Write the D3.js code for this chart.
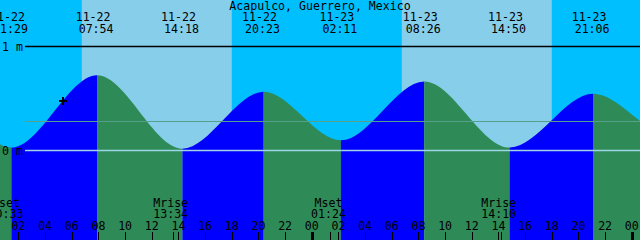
<!DOCTYPE html>
<html>
<head>
<meta charset="utf-8">
<script src="https://cdn.jsdelivr.net/npm/d3@7"></script>
<style>
body { margin: 0; background: #fff; }
svg { display: block; font-family: "DejaVu Sans Mono", monospace; font-size: 11.6px; }
</style>
</head>
<body>
<svg id="chart"></svg>
<script>
// tide extremes (first two and last two are off-screen guesses)
const title = "Acapulco, Guerrero, Mexico";
const tideTimes = ["2023-11-21 13:40", "2023-11-21 19:45", "2023-11-22 01:29", "2023-11-22 07:54",
  "2023-11-22 14:18", "2023-11-22 20:23", "2023-11-23 02:11", "2023-11-23 08:26",
  "2023-11-23 14:50", "2023-11-23 21:06", "2023-11-24 02:55", "2023-11-24 09:10"];
const tideHeights = [0.04, 0.55, 0.03, 0.73, 0.02, 0.57, 0.10, 0.67, 0.03, 0.55, 0.15, 0.62];

const sunRise = ["2023-11-22 06:45", "2023-11-23 06:45"];
const sunSet = ["2023-11-22 18:00", "2023-11-23 18:00"];

const moonNames = ["Mset", "Mrise", "Mset", "Mrise"];
const moonTimes = ["2023-11-22 00:33", "2023-11-22 13:34", "2023-11-23 01:24", "2023-11-23 14:10"];

const heightTicks = [1, 0];
const meanLevel = 0.29;
const nowTime = "2023-11-22 05:22", nowHeight = 0.48;
const startTime = "2023-11-22 00:37", endTime = "2023-11-24 00:37";

const width = 640, height = 240;
const parse = d3.timeParse("%Y-%m-%d %H:%M");

const svg = d3.select("#chart").attr("width", width).attr("height", height);

const x = d3.scaleTime().domain([parse(startTime), parse(endTime)]).range([0, width]);
const y = d3.scaleLinear().domain([0, 1]).range([150.7, 47.3]);

const tide = tideTimes.map((t, i) => ({t: parse(t), h: tideHeights[i]}));

// night / day sky
svg.append("rect").attr("width", width).attr("height", height).attr("fill", "#00bfff");
svg.selectAll(".day")
  .data(sunRise.map((r, i) => [parse(r), parse(sunSet[i])]))
  .join("rect").attr("class", "day")
  .attr("x", d => x(d[0])).attr("width", d => x(d[1]) - x(d[0]))
  .attr("y", 0).attr("height", height)
  .attr("fill", "#87ceeb");

// water, blue while rising and green while falling
const area = d3.area()
  .x(d => x(d.t))
  .y0(height)
  .y1(d => y(d.h))
  .curve(d3.curveMonotoneX);

svg.append("clipPath").attr("id", "water")
  .append("path").attr("d", area(tide));

svg.append("g").attr("clip-path", "url(#water)")
  .selectAll("rect")
  .data(d3.pairs(tide))
  .join("rect")
  .attr("x", d => x(d[0].t)).attr("width", d => x(d[1].t) - x(d[0].t))
  .attr("y", 0).attr("height", height)
  .attr("fill", d => d[1].h > d[0].h ? "#0000ff" : "#2e8b57");

// height lines
svg.append("line")
  .attr("x1", 25).attr("x2", width)
  .attr("y1", Math.round(y(meanLevel)) + 0.5).attr("y2", Math.round(y(meanLevel)) + 0.5)
  .attr("stroke", "#55a08a");

svg.selectAll(".hline")
  .data(heightTicks)
  .join("line").attr("class", "hline")
  .attr("x1", 25).attr("x2", width)
  .attr("y1", d => Math.round(y(d)) - 0.5).attr("y2", d => Math.round(y(d)) - 0.5)
  .attr("stroke", d => d > 0.5 ? "#000" : "#9fd3e6")
  .attr("stroke-width", d => d > 0.5 ? 1.5 : 1.5);

svg.selectAll(".hlabel")
  .data(heightTicks)
  .join("text").attr("class", "hlabel")
  .attr("x", 2).attr("y", d => y(d) + 4)
  .text(d => d + " m");

// title and extreme labels
svg.append("text")
  .attr("x", width / 2).attr("y", 10)
  .attr("text-anchor", "middle")
  .text(title);

const shown = tide.filter(d => x(d.t) > -20 && x(d.t) < width + 20);
const fmtDate = d3.timeFormat("%m-%d"), fmtTime = d3.timeFormat("%H:%M");

svg.selectAll(".tdate")
  .data(shown)
  .join("text").attr("class", "tdate")
  .attr("x", d => x(d.t) - 4).attr("y", 21)
  .attr("text-anchor", "middle")
  .text(d => fmtDate(d.t));

svg.selectAll(".ttime")
  .data(shown)
  .join("text").attr("class", "ttime")
  .attr("x", d => x(d.t) - 1).attr("y", 33)
  .attr("text-anchor", "middle")
  .text(d => fmtTime(d.t));

// now marker
const nx = Math.round(x(parse(nowTime))), ny = Math.round(y(nowHeight));
svg.append("path")
  .attr("d", `M${nx - 4},${ny}H${nx + 4}M${nx},${ny - 4}V${ny + 4}`)
  .attr("stroke", "#000").attr("stroke-width", 2);

// moon events
const moon = moonTimes.map((t, i) => ({t: parse(t), name: moonNames[i]}));

svg.selectAll(".mname")
  .data(moon)
  .join("text").attr("class", "mname")
  .attr("x", d => Math.max(x(d.t) - 2, 6)).attr("y", 207)
  .attr("text-anchor", "middle")
  .text(d => d.name);

svg.selectAll(".mtime")
  .data(moon)
  .join("text").attr("class", "mtime")
  .attr("x", d => Math.max(x(d.t) - 2, 6)).attr("y", 218)
  .attr("text-anchor", "middle")
  .text(d => fmtTime(d.t));

svg.selectAll(".mtick")
  .data(moon)
  .join("line").attr("class", "mtick")
  .attr("x1", d => Math.round(x(d.t)) + 0.5).attr("x2", d => Math.round(x(d.t)) + 0.5)
  .attr("y1", 232).attr("y2", height)
  .attr("stroke", "#000");

// hour axis
const hours = x.ticks(d3.timeHour.every(2));

svg.selectAll(".htick")
  .data(hours)
  .join("line").attr("class", "htick")
  .attr("x1", d => Math.round(x(d)) + 0.5).attr("x2", d => Math.round(x(d)) + 0.5)
  .attr("y1", 232).attr("y2", height)
  .attr("stroke", "#000")
  .attr("stroke-width", d => d.getHours() === 0 ? 3 : 1);

svg.selectAll(".hlab")
  .data(hours)
  .join("text").attr("class", "hlab")
  .attr("x", d => x(d)).attr("y", 230)
  .attr("text-anchor", "middle")
  .text(d3.timeFormat("%H"));
</script>
</body>
</html>
